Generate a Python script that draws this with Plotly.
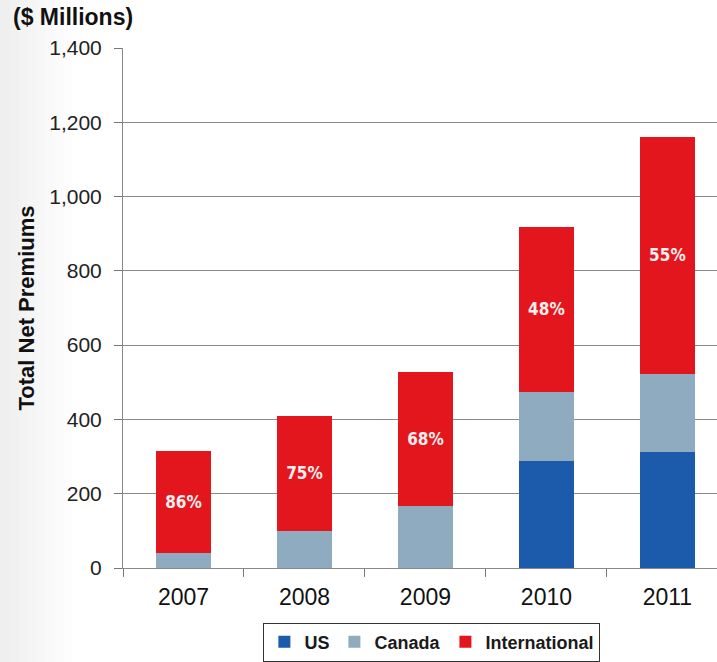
import plotly.graph_objects as go

years = ["2007", "2008", "2009", "2010", "2011"]
us = [0, 0, 0, 287, 311]
canada = [40, 99, 166, 188, 212]
international = [276, 311, 362, 442, 638]
intl_share_labels = ["86%", "75%", "68%", "48%", "55%"]

y_ticks = [0, 200, 400, 600, 800, 1000, 1200, 1400]
y_tick_text = ["0", "200", "400", "600", "800", "1,000", "1,200", "1,400"]

FONT = "Arial, Liberation Sans, sans-serif"

fig = go.Figure()
fig.add_trace(go.Bar(name="US", x=years, y=us, marker_color="#1c5aab",
                     marker_line_width=0))
fig.add_trace(go.Bar(name="Canada", x=years, y=canada, marker_color="#8fabbf",
                     marker_line_width=0))
fig.add_trace(go.Bar(name="International", x=years, y=international,
                     marker_color="#e3161e", marker_line_width=0,
                     text=intl_share_labels, textposition="inside",
                     insidetextanchor="middle",
                     textfont=dict(family="DejaVu Sans Condensed, DejaVu Sans", size=17,
                                   color="#f4eeee", weight="bold"),
                     textangle=0))

# soft grey shading along the left edge of the page
shade = [dict(type="rect", xref="paper", yref="paper", x0=-0.21, x1=-0.21 + w,
              y0=-0.2, y1=1.1, fillcolor="rgba(0,0,0,0.008)", line_width=0,
              layer="below")
         for w in (0.02, 0.035, 0.05, 0.065, 0.08, 0.095, 0.11, 0.125)]

fig.update_layout(
    barmode="stack",
    bargap=0.545,
    width=717, height=662,
    margin=dict(l=123, r=0, t=48, b=92),
    paper_bgcolor="#ffffff",
    plot_bgcolor="#ffffff",
    font=dict(family=FONT, color="#1a1a1a"),
    showlegend=True,
    legend=dict(orientation="h", x=0.52, xanchor="center", y=-0.105, yanchor="top",
                bordercolor="#333333", borderwidth=1, bgcolor="#ffffff",
                font=dict(size=18, family=FONT, color="#1a1a1a", weight="bold"),
                itemwidth=30, traceorder="normal", tracegroupgap=0),
    shapes=shade,
    annotations=[dict(text="<b>($ Millions)</b>", xref="paper", yref="paper",
                      x=-0.188, y=1.088, xanchor="left", yanchor="top", showarrow=False,
                      font=dict(size=23, family=FONT, color="#111111"))],
)

fig.update_xaxes(range=[-0.5, 4.41], showline=True, linecolor="#888888", linewidth=1,
                 ticks="outside", tickson="boundaries", ticklen=8, tickcolor="#777777",
                 tickfont=dict(size=23, family=FONT, color="#111111"),
                 ticklabelstandoff=8, showgrid=False)
fig.update_yaxes(range=[0, 1400], tickvals=y_ticks, ticktext=y_tick_text,
                 showline=True, linecolor="#888888", linewidth=1,
                 ticks="outside", ticklen=8, tickcolor="#777777",
                 showgrid=True, gridcolor="#8a8a8a", gridwidth=1,
                 tickfont=dict(size=21, family=FONT, color="#222222"),
                 ticklabelstandoff=8, zeroline=False,
                 title=dict(text="<b>Total Net Premiums</b>", standoff=8,
                            font=dict(size=22, family=FONT, color="#111111")))

fig.write_html("out.html")
